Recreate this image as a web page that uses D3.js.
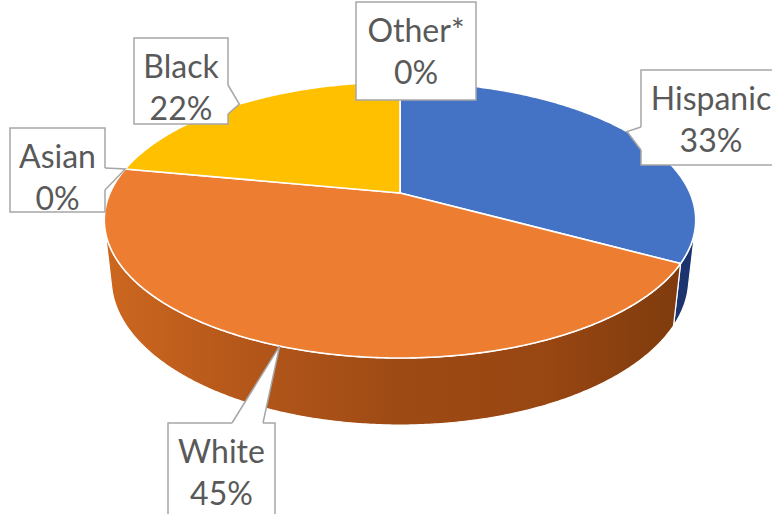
<!DOCTYPE html>
<html>
<head>
<meta charset="utf-8">
<script src="https://cdn.jsdelivr.net/npm/d3@7"></script>
<style>
  html, body { margin: 0; padding: 0; background: #fff; }
  svg { display: block; }
</style>
</head>
<body>
<svg id="chart" width="772" height="514"></svg>
<script>
// Share of enrolment by group (percent)
const categories = ["Hispanic", "White", "Asian", "Black", "Other*"];
const shares = [33, 45, 0, 22, 0];
const shareLabels = ["33%", "45%", "0%", "22%", "0%"];

// Slice colours: top face, side-wall gradient stops
const topColors = {
  "Hispanic": "#4472C4", "White": "#ED7D31", "Asian": "#A5A5A5",
  "Black": "#FFC000", "Other*": "#5B9BD5"
};
const sideStops = {
  "Hispanic": ["#2C4D96", "#1B346F"],
  "White": ["#CC671F", "#B3561A", "#9E4A14", "#984612", "#7C3A0D"],
  "Asian": ["#7F7F7F", "#5F5F5F"],
  "Black": ["#C89600", "#9A7400"],
  "Other*": ["#3F78B0", "#2C5A88"]
};

// Callout boxes: [x, y, w, h], wedge base points on the box edge
const labelLayout = {
  "Hispanic": { box: [641, 70, 140, 95], base: [[641, 127], [641, 150]] },
  "White":    { box: [168, 423, 107, 100], base: [[232, 423], [263, 423]] },
  "Asian":    { box: [10, 128, 95, 84], base: [[105, 168], [105, 190]] },
  "Black":    { box: [134, 38, 94, 86], base: [[228, 85], [228, 114]] },
  "Other*":   { box: [356, 2, 120, 98], base: null }
};

const svg = d3.select("#chart");
const defs = svg.append("defs");

// Perspective view of a unit-radius cylinder seen from above and in front
const cx = 400, cy = 193;
const D = 4.545, k = 1318, depthH = 0.23;
const elev = Math.asin(0.4577);
const se = Math.sin(elev), ce = Math.cos(elev);

function project(theta, r, y) {
  const x = r * Math.sin(theta), z = r * Math.cos(theta);
  const ry = y - D * se, rz = z + D * ce;
  const depth = -ry * se + rz * ce;
  const up = ry * ce + rz * se;
  return [cx + k * x / depth, cy - k * up / depth];
}

const pie = d3.pie().sort(null).value(d => d.value);
const arcs = pie(categories.map((c, i) => ({ name: c, value: shares[i], label: shareLabels[i] })));

const step = Math.PI / 360;
function arcPoints(a0, a1, y) {
  const n = Math.max(2, Math.ceil((a1 - a0) / step));
  return d3.range(n + 1).map(i => project(a0 + (a1 - a0) * i / n, 1, y));
}

const line = d3.line();

// Side wall faces the viewer only where cos(theta) < -1/(D cos e)
const limit = Math.acos(-1 / (D * ce));
const visLo = limit, visHi = 2 * Math.PI - limit;

const sides = svg.append("g");
arcs.forEach((a, i) => {
  if (a.value <= 0) return;
  const s = Math.max(a.startAngle, visLo), t = Math.min(a.endAngle, visHi);
  if (t <= s) return;
  const gid = "side" + i;
  const g = defs.append("linearGradient").attr("id", gid)
    .attr("gradientUnits", "userSpaceOnUse")
    .attr("x1", project(visHi, 1, 0)[0]).attr("x2", project(visLo, 1, 0)[0])
    .attr("y1", 0).attr("y2", 0);
  const stops = sideStops[a.data.name];
  stops.forEach((c, j) => g.append("stop")
    .attr("offset", (j / (stops.length - 1)))
    .attr("stop-color", c));
  const pts = arcPoints(s, t, 0).concat(arcPoints(s, t, -depthH).reverse());
  sides.append("path")
    .attr("d", line(pts) + "Z")
    .attr("fill", `url(#${gid})`)
    .attr("stroke", "#ffffff")
    .attr("stroke-width", 1.2)
    .attr("stroke-linejoin", "round");
});

const tops = svg.append("g");
const centre = project(0, 0, 0);
arcs.forEach(a => {
  if (a.value <= 0) return;
  const pts = [centre].concat(arcPoints(a.startAngle, a.endAngle, 0));
  tops.append("path")
    .attr("d", line(pts) + "Z")
    .attr("fill", topColors[a.data.name])
    .attr("stroke", "#ffffff")
    .attr("stroke-width", 1.6)
    .attr("stroke-linejoin", "round");
});

// Data callouts
const labels = svg.append("g")
  .attr("font-family", "Lato, 'Open Sans', sans-serif")
  .attr("font-size", 32)
  .attr("fill", "#595959");

arcs.forEach(a => {
  const L = labelLayout[a.data.name];
  const [bx, by, bw, bh] = L.box;
  const g = labels.append("g");
  g.append("rect")
    .attr("x", bx).attr("y", by).attr("width", bw).attr("height", bh)
    .attr("fill", "#ffffff")
    .attr("stroke", "#A6A6A6")
    .attr("stroke-width", 1.5);
  if (L.base) {
    const mid = a.value > 0 ? (a.startAngle + a.endAngle) / 2 : a.startAngle;
    const tip = project(mid, 1, 0);
    const [b1, b2] = L.base;
    // nudge base points inward so the fill hides the box border there
    const inward = (p) => {
      const dx = p[0] === bx ? 2 : p[0] === bx + bw ? -2 : 0;
      const dy = p[1] === by ? 2 : p[1] === by + bh ? -2 : 0;
      return [p[0] + dx, p[1] + dy];
    };
    g.append("path")
      .attr("d", line([inward(b1), b1, tip, b2, inward(b2)]) + "Z")
      .attr("fill", "#ffffff").attr("stroke", "none");
    g.append("path")
      .attr("d", line([b1, tip, b2]))
      .attr("fill", "none")
      .attr("stroke", "#A6A6A6")
      .attr("stroke-width", 1.5)
      .attr("stroke-linejoin", "miter");
  }
  const tx = bx + bw / 2;
  g.append("text").attr("x", tx).attr("y", by + 40)
    .attr("text-anchor", "middle").text(a.data.name);
  g.append("text").attr("x", tx).attr("y", by + 82)
    .attr("text-anchor", "middle").text(a.data.label);
});
</script>
</body>
</html>
